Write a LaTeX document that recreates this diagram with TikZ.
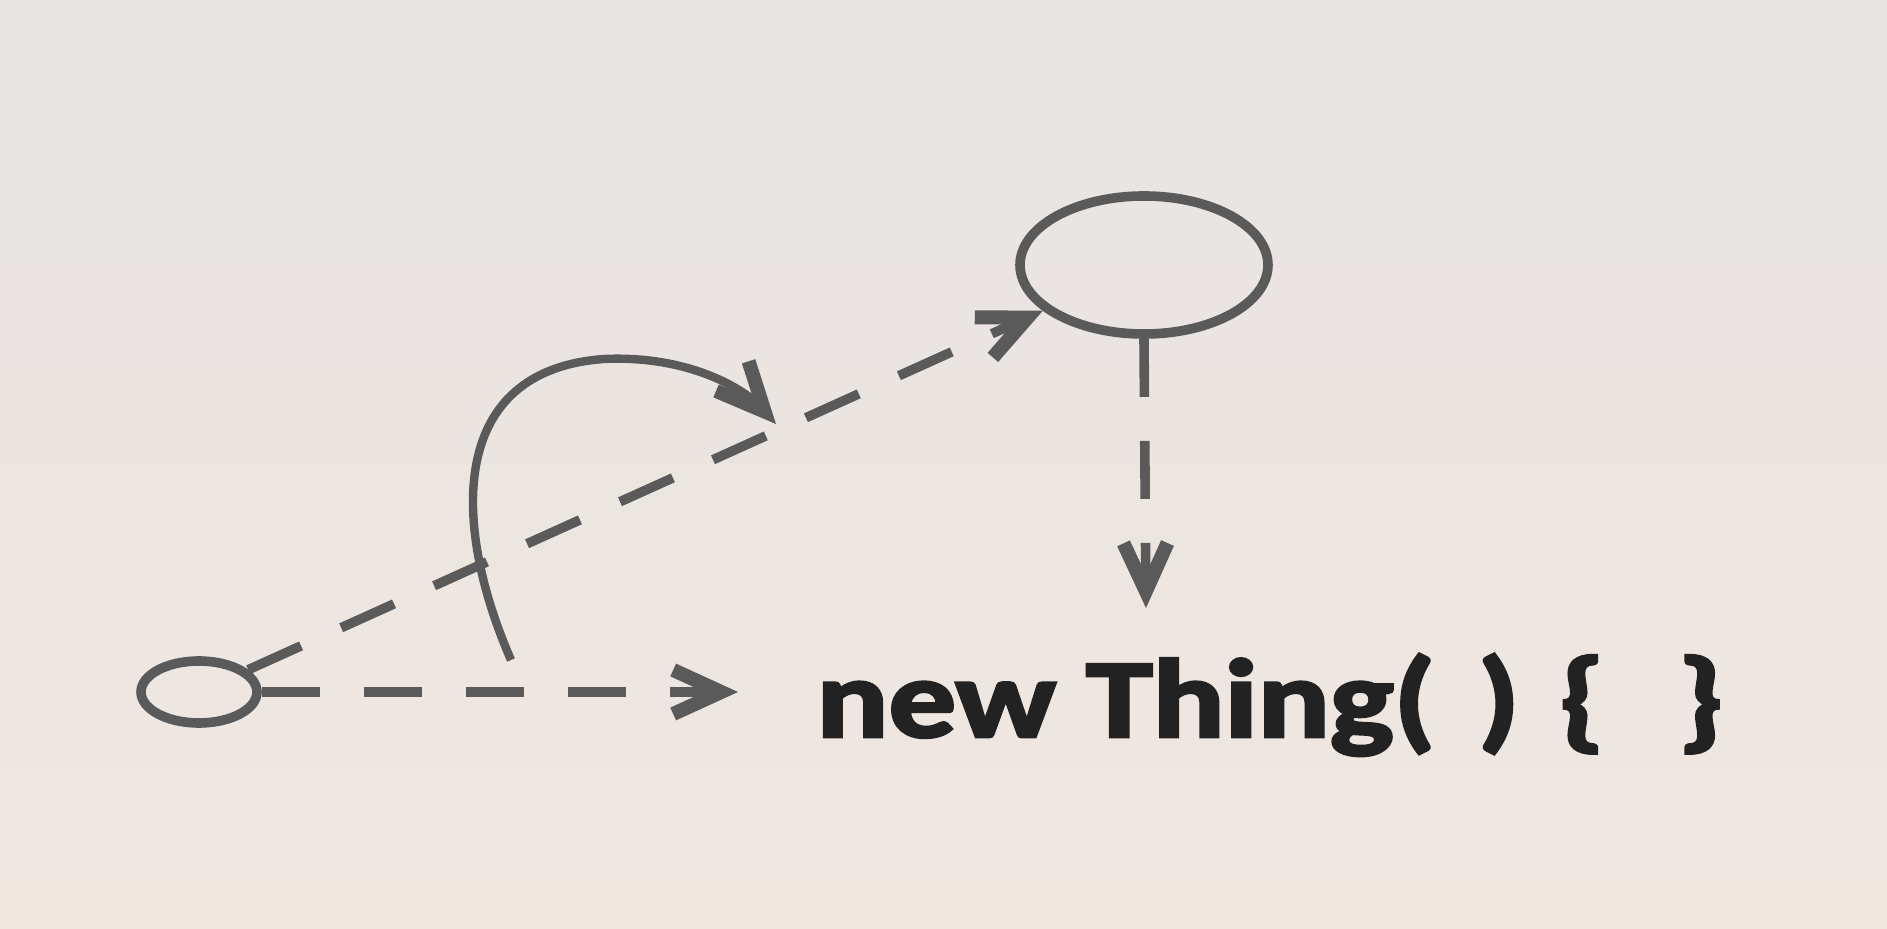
\documentclass[tikz,border=0pt]{standalone}
\usepackage{fontspec}
\setmainfont{Carlito}
\newfontfamily\codefont[BoldFeatures={FakeBold=2.5}]{Carlito}
\usetikzlibrary{arrows.meta,shapes.geometric}
\definecolor{papertop}{HTML}{E7E4E2}
\definecolor{paperbot}{HTML}{F0E7E1}
\definecolor{ink}{HTML}{5A5A5A}
\definecolor{textink}{HTML}{222222}
\begin{document}
\begin{tikzpicture}[x=0.5pt,y=-0.5pt,
  bubble/.style={ellipse,draw=ink,line width=4.8pt,inner sep=0pt},
  headtip/.style={-{Straight Barb[length=24pt,width=22pt,line width=7pt]}},
  link/.style={draw=ink,line width=4.8pt,dash pattern=on 29pt off 22pt,headtip},
  solidlink/.style={draw=ink,line width=4.2pt,headtip},
  code/.style={font=\codefont\fontsize{56}{64}\selectfont\bfseries,text=textink,inner sep=0pt}]
\shade[top color=papertop,bottom color=paperbot] (0,0) rectangle (1887,929);
\useasboundingbox (0,0) rectangle (1887,929);
\node[bubble,minimum width=58pt,minimum height=31pt] (small) at (199,692) {};
\node[bubble,minimum width=124pt,minimum height=69pt] (big) at (1144,265) {};
\node[code,anchor=base west] (txt) at (816,737)
  {\scalebox{1.2}[1]{new Thing(\ \hspace{5pt})\ \hspace{3.5pt}\{\ \ \hspace{5pt}\}}};
\coordinate (htip) at (738,692);
\coordinate (vtip) at (1146,608);
\coordinate (cstart) at (511,660);
\coordinate (ctip) at (776,424);
\draw[link] (small.east) -- (htip);
\draw[link] (small) -- (big);
\draw[link] (big.south) -- (vtip);
\draw[solidlink] (cstart) .. controls (450,520) and (450,370) .. (604,359)
   .. controls (690,355) and (745,390) .. (ctip);
\end{tikzpicture}
\end{document}
